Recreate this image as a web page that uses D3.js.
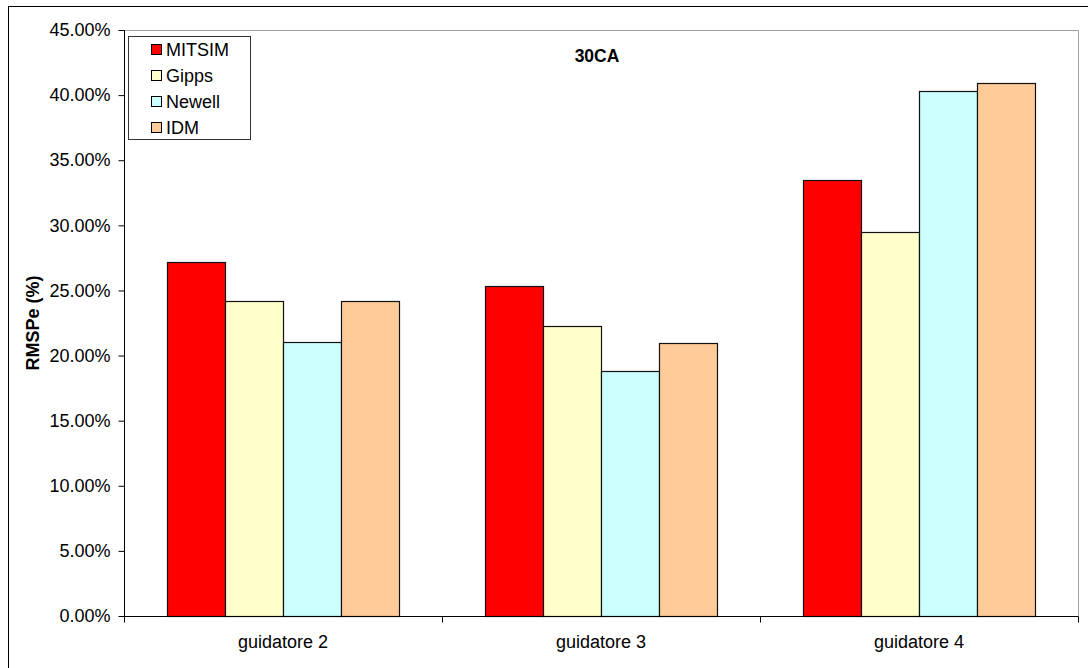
<!DOCTYPE html>
<html><head><meta charset="utf-8">
<script src="https://cdn.jsdelivr.net/npm/d3@7"></script>
<style>
html,body{margin:0;padding:0;background:#fff;}
svg{display:block;font-family:Arial,"Liberation Sans",sans-serif;}
</style></head>
<body>
<svg id="chart" width="1088" height="668"></svg>
<script>
const categories = ["guidatore 2", "guidatore 3", "guidatore 4"];
const seriesNames = ["MITSIM", "Gipps", "Newell", "IDM"];
const seriesColors = ["#FF0000", "#FFFFCC", "#CCFFFF", "#FFCC99"];
const mitsim = [27.20, 25.36, 33.46];
const gipps  = [24.19, 22.25, 29.46];
const newell = [21.07, 18.84, 40.34];
const idm    = [24.19, 20.99, 40.96];
const yTicks = [0, 5, 10, 15, 20, 25, 30, 35, 40, 45];
const title = "30CA";
const yLabel = "RMSPe (%)";

const seriesValues = [mitsim, gipps, newell, idm];
const svg = d3.select("#chart");
const m = {left:124, right:1078, top:30, bottom:616};

// outer border
svg.append("rect").attr("x",8.5).attr("y",6.5).attr("width",1100).attr("height",700)
  .attr("fill","none").attr("stroke","#000").attr("stroke-width",1);

const x0 = d3.scaleBand().domain(categories).range([m.left, m.right]).paddingInner(0).paddingOuter(0);
const gapRatio = 1.5;
const unit = x0.bandwidth() / (seriesNames.length + gapRatio);
const y = d3.scaleLinear().domain([0,45]).range([m.bottom, m.top]);

// plot area border (gray top/right)
svg.append("path").attr("d",`M${m.left},${m.top+0.5}H${m.right+0.5}V${m.bottom}`)
  .attr("fill","none").attr("stroke","#a0a0a0").attr("stroke-width",1);

// bars
categories.forEach((c,ci)=>{
  seriesValues.forEach((vals,si)=>{
    const bx = x0(c) + unit*gapRatio/2 + unit*si;
    svg.append("rect")
      .attr("x", Math.round(bx)+0.5)
      .attr("y", Math.round(y(vals[ci]))+0.5)
      .attr("width", Math.round(bx+unit)-Math.round(bx))
      .attr("height", Math.round(y(0)) - Math.round(y(vals[ci])))
      .attr("fill", seriesColors[si]).attr("stroke","#111").attr("stroke-width",1.2);
  });
});

// y axis
const yAxis = d3.axisLeft(y).tickValues(yTicks).tickSize(6).tickPadding(8)
  .tickFormat(d=>d.toFixed(2)+"%");
const gy = svg.append("g").attr("transform",`translate(${m.left+0.5},0)`).call(yAxis);
gy.select(".domain").attr("d",`M0,${m.top}V${m.bottom+6}`).attr("stroke","#000");
gy.selectAll(".tick line").attr("stroke","#000");
gy.selectAll(".tick text").attr("font-size","18px").attr("fill","#000")
  .attr("font-family","Arial, 'Liberation Sans', sans-serif");

// x axis
const xAxis = d3.axisBottom(x0).tickSize(0).tickPadding(19);
const gx = svg.append("g").attr("transform",`translate(0,${m.bottom+0.5})`).call(xAxis);
gx.select(".domain").attr("d",`M${m.left},0H${m.right+0.5}`).attr("stroke","#000");
gx.selectAll(".tick text").attr("font-size","18px").attr("fill","#000")
  .attr("font-family","Arial, 'Liberation Sans', sans-serif");
// category boundary tick marks
const bounds = categories.map(c=>x0(c)).concat([m.right]);
gx.selectAll(".btick").data(bounds).enter().append("line")
  .attr("x1",d=>Math.round(d)+0.5).attr("x2",d=>Math.round(d)+0.5)
  .attr("y1",0).attr("y2",6).attr("stroke","#000");

// title
svg.append("text").attr("x",597).attr("y",62).attr("text-anchor","middle")
  .attr("font-size","17.5px").attr("font-weight","bold").text(title);

// y label
svg.append("text").attr("transform",`translate(39,${(m.top+m.bottom)/2}) rotate(-90)`)
  .attr("text-anchor","middle").attr("font-size","18px").attr("font-weight","bold").text(yLabel);

// legend
const lg = svg.append("g");
lg.append("rect").attr("x",128.5).attr("y",36.5).attr("width",122).attr("height",103)
  .attr("fill","#fff").attr("stroke","#333").attr("stroke-width",1);
seriesNames.forEach((n,i)=>{
  const cy = 50 + i*26;
  lg.append("rect").attr("x",151.5).attr("y",cy-5.5).attr("width",10).attr("height",10)
    .attr("fill",seriesColors[i]).attr("stroke","#000").attr("stroke-width",1);
  lg.append("text").attr("x",166).attr("y",cy).attr("dy","0.36em")
    .attr("font-size","18px").text(n);
});
</script>
</body></html>
